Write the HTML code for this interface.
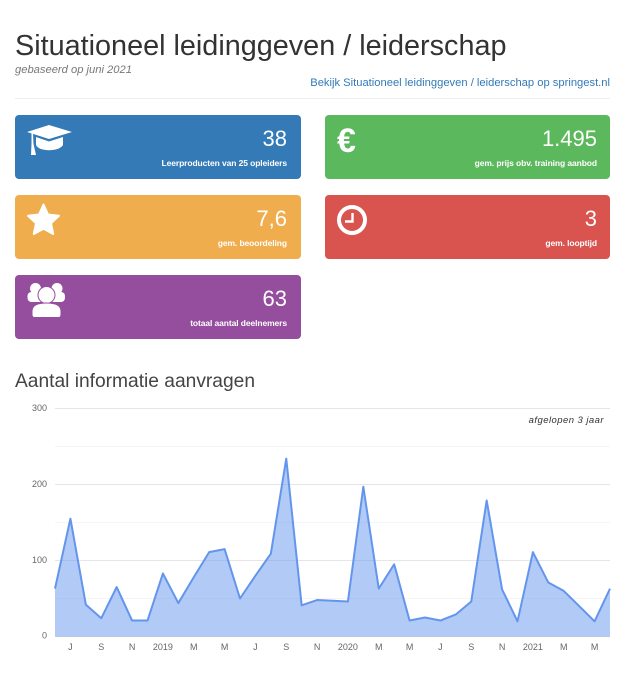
<!DOCTYPE html>
<html lang="nl">
<head>
<meta charset="utf-8">
<title>Situationeel leidinggeven / leiderschap</title>
<style>
html,body{margin:0;padding:0;background:#fff;}
body{width:633px;height:682px;position:relative;overflow:hidden;font-family:"Liberation Sans",Arial,sans-serif;}
.abs{position:absolute;white-space:nowrap;}
.card{position:absolute;width:286px;height:64px;border-radius:4px;color:#fff;}
.card .num{position:absolute;right:14px;top:11px;font-size:22px;line-height:26px;}
.card .lbl{position:absolute;right:14px;top:42px;font-size:8.5px;line-height:12px;font-weight:bold;white-space:nowrap;letter-spacing:-0.1px;}
.card svg{position:absolute;left:0;top:0;}
#chart{position:absolute;left:0;top:400px;}
</style>
</head>
<body>
<div class="abs" style="left:15px;top:28px;font-size:28.8px;line-height:36px;color:#333;">Situationeel leidinggeven / leiderschap</div>
<div class="abs" style="left:15px;top:63px;font-size:11.2px;line-height:14px;font-style:italic;color:#777;">gebaseerd op juni 2021</div>
<a class="abs" style="right:23px;top:76px;font-size:11.2px;line-height:14px;color:#337ab7;text-decoration:none;" href="#">Bekijk Situationeel leidinggeven / leiderschap op springest.nl</a>
<div class="abs" style="left:15px;top:98px;width:595px;height:1px;background:#eee;"></div>

<div class="card" style="left:15px;top:115px;background:#337ab7;">
<svg width="80" height="64"><path fill="#fff" d="M12 17L34 10L57 17L34 24Z"/><path fill="#fff" d="M21 22L34 26.500L48 22V30C44 37 24 37 21 30Z"/><path fill="#fff" d="M16.500 18H18L18.500 29L21 40H16L16.500 29Z"/></svg>
<div class="num">38</div>
<div class="lbl">Leerproducten van 25 opleiders</div>
</div>

<div class="card" style="left:325px;top:115px;width:285px;background:#5cb85c;">
<div class="abs" style="left:12px;top:6px;font-size:34px;line-height:40px;font-weight:bold;">€</div>
<div class="num" style="right:13px;">1.495</div>
<div class="lbl" style="right:13px;">gem. prijs obv. training aanbod</div>
</div>

<div class="card" style="left:15px;top:195px;background:#f0ad4e;">
<svg width="80" height="64"><path fill="#fff" stroke="#fff" stroke-width="2" stroke-linejoin="round" d="M28.500 9.500L33 19.500L44 20.800L36 28.300L38.200 39L28.500 33.700L18.800 39L21 28.300L13 20.800L24 19.500Z"/></svg>
<div class="num">7,6</div>
<div class="lbl">gem. beoordeling</div>
</div>

<div class="card" style="left:325px;top:195px;width:285px;background:#d9534f;">
<svg width="80" height="64"><circle cx="27" cy="25" r="13" fill="none" stroke="#fff" stroke-width="4"/><path fill="none" stroke="#fff" stroke-width="2.400" d="M27.500 18V26.500H20"/></svg>
<div class="num" style="right:13px;">3</div>
<div class="lbl" style="right:13px;">gem. looptijd</div>
</div>

<div class="card" style="left:15px;top:275px;background:#954d9e;">
<svg width="80" height="64"><circle cx="20.500" cy="13.500" r="5.500" fill="#fff"/><circle cx="42" cy="13.500" r="5.500" fill="#fff"/><rect x="12.500" y="17" width="37.500" height="10" rx="4" fill="#fff"/><circle cx="31.500" cy="20" r="8.500" fill="#fff" stroke="#954d9e" stroke-width="1"/><path fill="#fff" stroke="#954d9e" stroke-width="1" d="M17 40V36C17 30 23 28 31.500 28C40 28 46 30 46 36V40C46 41 45 42.500 44 42.500H19C18 42.500 17 41 17 40Z"/></svg>
<div class="num">63</div>
<div class="lbl">totaal aantal deelnemers</div>
</div>

<div class="abs" style="left:15px;top:370px;font-size:19.2px;line-height:24px;color:#444;">Aantal informatie aanvragen</div>

<svg id="chart" width="633" height="282"></svg>

<script>
var values = [63,155,42,24,65,21,21,83,44,78,111,115,50,80,109,234,41,48,47,46,197,63,95,21,25,21,29,46,179,62,20,111,71,60,40,20,63];
var xTickLabels = ["J","S","N","2019","M","M","J","S","N","2020","M","M","J","S","N","2021","M","M"];
var xTickIndexes = [1,3,5,7,9,11,13,15,17,19,21,23,25,27,29,31,33,35];
var yMajorTicks = [0,100,200,300];
var yMinorTicks = [50,150,250];
var yMax = 300;

var NS = "http://www.w3.org/2000/svg";
var svg = document.getElementById("chart");
var left = 55, right = 610, top0 = 8.5, bottom = 236.5;

function xScale(i){ return left + i * (right - left) / (values.length - 1); }
function yScale(v){ return bottom - v * (bottom - top0) / yMax; }
function make(tag, attrs){
  var el = document.createElementNS(NS, tag);
  for (var k in attrs) el.setAttribute(k, attrs[k]);
  svg.appendChild(el);
  return el;
}

yMinorTicks.forEach(function(v){
  var el = make("line", {x1:left, x2:right, y1:yScale(v), y2:yScale(v), stroke:"#f5f5f5", "stroke-width":1});
  
  
});
yMajorTicks.forEach(function(v){
  var el = make("line", {x1:left, x2:right, y1:yScale(v), y2:yScale(v), stroke:v === 0 ? "#d8d8d8" : "#e6e6e6", "stroke-width":1});
  
  
  var t = make("text", {x:47, y:yScale(v) + (v === 0 ? 2 : 2.5), "text-anchor":"end", "font-size":9, fill:"#666", "font-family":"Liberation Sans, Arial, sans-serif"});
  t.textContent = String(v);
  
  
});

var linePts = values.map(function(v, i){ return xScale(i) + "," + yScale(v); });
var area = make("polygon", {points: xScale(0) + "," + yScale(0) + " " + linePts.join(" ") + " " + xScale(values.length - 1) + "," + yScale(0), fill:"#6495ed", "fill-opacity":0.5});


var line = make("polyline", {points: linePts.join(" "), fill:"none", stroke:"#6495ed", "stroke-width":2, "stroke-linejoin":"round"});



xTickLabels.forEach(function(label, n){
  var t = make("text", {x:xScale(xTickIndexes[n]), y:250, "text-anchor":"middle", "font-size":9, fill:"#666", "font-family":"Liberation Sans, Arial, sans-serif"});
  t.textContent = label;
  
  
});

var note = make("text", {x:604, y:23, "text-anchor":"end", "font-size":9.5, "font-style":"italic", fill:"#333", "letter-spacing":"0.45", "font-family":"Liberation Sans, Arial, sans-serif"});
note.textContent = "afgelopen 3 jaar";


</script>
</body>
</html>
